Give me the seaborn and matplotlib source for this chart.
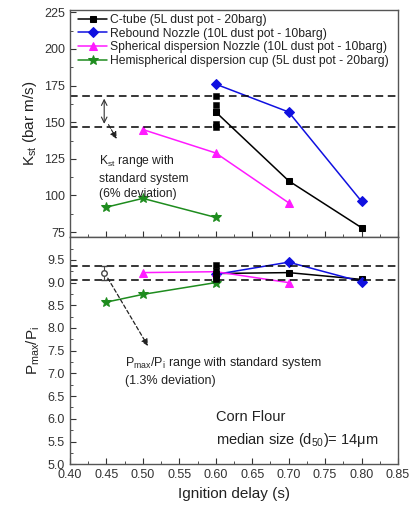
import pandas as pd
import seaborn as sns
import matplotlib.pyplot as plt
from matplotlib.ticker import MultipleLocator, FixedLocator

# ignition delay (s) for each dispersion system
ctube_x = [0.6, 0.7, 0.8]
ctube_kst = [157, 110, 78]
ctube_p = [9.2, 9.22, 9.07]
ctube_rep_x = [0.6, 0.6, 0.6, 0.6, 0.6]
ctube_rep_kst = [168, 162, 157, 149, 147]
ctube_rep_p = [9.39, 9.25, 9.18, 9.12, 9.08]

rebound_x = [0.6, 0.7, 0.8]
rebound_kst = [176, 157, 96]
rebound_p = [9.18, 9.45, 9.02]

spherical_x = [0.5, 0.6, 0.7]
spherical_kst = [145, 129, 95]
spherical_p = [9.22, 9.24, 9.0]

hemi_x = [0.45, 0.5, 0.6]
hemi_kst = [92, 98, 85]
hemi_p = [8.57, 8.74, 9.0]

names = ['C-tube (5L dust pot - 20barg)',
         'Rebound Nozzle (10L dust pot - 10barg)',
         'Spherical dispersion Nozzle (10L dust pot - 10barg)',
         'Hemispherical dispersion cup (5L dust pot - 20barg)']
colors = ['black', '#1010e0', '#ff1aff', '#1e8c1e']
markers = ['s', 'D', '^', '*']
sizes = [5, 5.5, 6, 7]

# standard system range
kst_std = [147, 168]
p_std = [9.05, 9.37]
p_std_mean = 9.21
p_std_err = 0.15

rows = []
for name, xs, ks, ps in zip(names,
                            [ctube_x, rebound_x, spherical_x, hemi_x],
                            [ctube_kst, rebound_kst, spherical_kst, hemi_kst],
                            [ctube_p, rebound_p, spherical_p, hemi_p]):
    for x, k, p in zip(xs, ks, ps):
        rows.append({'system': name, 'delay': x, 'kst': k, 'p': p})
df = pd.DataFrame(rows)
rep = pd.DataFrame({'delay': ctube_rep_x, 'kst': ctube_rep_kst, 'p': ctube_rep_p})

sns.set_style('ticks')
plt.rcParams['font.family'] = ['Liberation Sans', 'DejaVu Sans']
plt.rcParams['mathtext.default'] = 'regular'
plt.rcParams['text.color'] = '#222222'
plt.rcParams['axes.labelcolor'] = '#222222'

fig, (ax1, ax2) = plt.subplots(2, 1, figsize=(4.09, 5.09), dpi=100, sharex=True)
fig.subplots_adjust(left=0.171, right=0.973, top=0.980, bottom=0.088, hspace=0)

for ax, col in [(ax1, 'kst'), (ax2, 'p')]:
    for name, c, m, s in zip(names, colors, markers, sizes):
        sub = df[df['system'] == name]
        sns.lineplot(data=sub, x='delay', y=col, ax=ax, color=c, marker=m,
                     markersize=s, markeredgecolor=c, linewidth=1.1,
                     label=name if ax is ax1 else None, legend=False)
    sns.scatterplot(data=rep, x='delay', y=col, ax=ax, color='black', marker='s',
                    s=22, edgecolor='black', zorder=5, legend=False)

# standard system lines
for v in kst_std:
    ax1.axhline(v, color='black', ls=(0, (5, 3)), lw=1.1)
for v in p_std:
    ax2.axhline(v, color='black', ls=(0, (5, 3)), lw=1.1)

ax1.annotate('', xy=(0.447, kst_std[1]), xytext=(0.447, kst_std[0]),
             arrowprops=dict(arrowstyle='<->', color='#333333', lw=0.8))
ax1.annotate('', xy=(0.466, 137), xytext=(0.451, 150),
             arrowprops=dict(arrowstyle='-|>', color='#222222', lw=0.8, ls='--'))
ax1.text(0.44, 129, 'K$_{st}$ range with\nstandard system\n(6% deviation)',
         fontsize=8.7, va='top', ha='left', linespacing=1.4)

ax2.errorbar([0.447], [p_std_mean], yerr=[p_std_err], fmt='o', mfc='white',
             mec='#444444', ecolor='#444444', ms=4, capsize=2, lw=0.8, zorder=6)
ax2.annotate('', xy=(0.509, 7.55), xytext=(0.45, 9.15),
             arrowprops=dict(arrowstyle='-|>', color='#222222', lw=0.9,
                             ls=(0, (3, 2))))
ax2.text(0.475, 7.4, 'P$_{max}$/P$_i$ range with standard system\n(1.3% deviation)',
         fontsize=9, va='top', ha='left', linespacing=1.4)
ax2.text(0.6, 6.2, 'Corn Flour\nmedian size (d$_{50}$)= 14$\\mu$m',
         fontsize=10.5, va='top', ha='left', linespacing=1.55)

ax1.set_ylim(71.5, 226.5)
ax1.yaxis.set_major_locator(MultipleLocator(25))
ax1.yaxis.set_minor_locator(MultipleLocator(12.5))
ax2.set_ylim(5.0, 10.0)
ax2.yaxis.set_major_locator(FixedLocator([5.0, 5.5, 6.0, 6.5, 7.0, 7.5, 8.0, 8.5, 9.0, 9.5]))
ax2.yaxis.set_minor_locator(MultipleLocator(0.25))
ax2.set_xlim(0.4, 0.85)
ax2.xaxis.set_major_locator(MultipleLocator(0.05))
ax2.xaxis.set_minor_locator(MultipleLocator(0.025))
ax2.xaxis.set_major_formatter(plt.FuncFormatter(lambda v, p: f'{v:.2f}'))
ax2.yaxis.set_major_formatter(plt.FuncFormatter(lambda v, p: f'{v:.1f}'))

ax1.set_ylabel('K$_{st}$ (bar m/s)', fontsize=11)
ax2.set_ylabel('P$_{max}$/P$_i$', fontsize=11)
ax2.set_xlabel('Ignition delay (s)', fontsize=11)
ax1.set_xlabel('')

for ax in (ax1, ax2):
    for sp in ax.spines.values():
        sp.set_visible(True)
        sp.set_color('#555555')
        sp.set_linewidth(1.0)
    ax.tick_params(which='both', direction='in', labelsize=9, colors='#333333',
                   top=False, right=False)
    ax.tick_params(which='major', length=4)
    ax.tick_params(which='minor', length=2)

ax1.legend(loc='upper left', bbox_to_anchor=(0.015, 1.0), fontsize=8.7,
           frameon=False, borderpad=0.3, labelspacing=0.15,
           handlelength=2.4, handletextpad=0.2, borderaxespad=0.0)

plt.savefig('out.png', dpi=100)
